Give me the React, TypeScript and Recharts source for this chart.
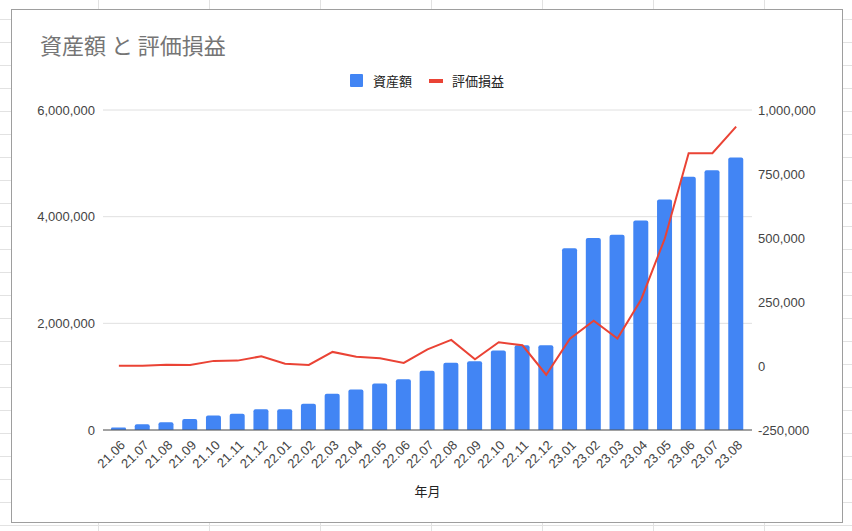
import React from "react";
import {
  ComposedChart,
  Bar,
  Line,
  XAxis,
  YAxis,
  CartesianGrid,
} from "recharts";

const months = [
  "21.06", "21.07", "21.08", "21.09", "21.10", "21.11", "21.12",
  "22.01", "22.02", "22.03", "22.04", "22.05", "22.06", "22.07",
  "22.08", "22.09", "22.10", "22.11", "22.12", "23.01", "23.02",
  "23.03", "23.04", "23.05", "23.06", "23.07", "23.08",
];

// 資産額 (left axis)
const assets = [
  45000, 110000, 145000, 205000, 270000, 305000, 390000, 390000, 490000,
  680000, 760000, 870000, 950000, 1110000, 1260000, 1290000, 1490000,
  1590000, 1590000, 3410000, 3600000, 3660000, 3930000, 4320000, 4750000,
  4870000, 5110000,
];

// 評価損益 (right axis)
const pnl = [
  1000, 1000, 5000, 4000, 20000, 21000, 38000, 9000, 4000, 55000, 36000,
  30000, 12000, 65000, 102000, 26000, 93000, 81000, -34000, 107000, 177000,
  107000, 260000, 499000, 831000, 831000, 935000,
];

const leftTicks = [0, 2000000, 4000000, 6000000];
const rightTicks = [-250000, 0, 250000, 500000, 750000, 1000000];

const data = months.map((m, i) => ({ month: m, assets: assets[i], pnl: pnl[i] }));

const FONT = "'Liberation Sans', Arial, 'Noto Sans CJK JP', sans-serif";
const BLUE = "#4285f4";
const RED = "#ea4335";

const fmt = (v: number) => v.toLocaleString("en-US");

const XTick = (props: any) => {
  const { x, y, payload } = props;
  return (
    <g transform={`translate(${x + 7},${y + 8})`}>
      <text
        x={0}
        y={0}
        textAnchor="end"
        transform="rotate(-45)"
        fill="#444"
        fontSize={13}
        fontFamily={FONT}
      >
        {payload.value}
      </text>
    </g>
  );
};

export default function App() {
  return (
    <div
      style={{
        position: "absolute",
        left: 0,
        top: 0,
        width: 852,
        height: 531,
        overflow: "hidden",
        backgroundColor: "#fff",
        backgroundImage:
          "linear-gradient(#e2e2e2 1px, transparent 1px), linear-gradient(90deg, #e2e2e2 1px, transparent 1px)",
        backgroundSize: "111px 23px",
        backgroundPosition: "98px 19px",
        fontFamily: FONT,
      }}
    >
      <div
        style={{
          position: "absolute",
          left: 11,
          top: 9,
          width: 832,
          height: 514,
          boxSizing: "border-box",
          border: "1px solid #9e9e9e",
          background: "#fff",
        }}
      >
        <div
          style={{
            position: "absolute",
            left: 28,
            top: 23,
            fontSize: 22,
            lineHeight: "22px",
            color: "#757575",
            fontFamily: "'Noto Sans CJK JP', sans-serif",
            whiteSpace: "pre",
          }}
        >
          資産額 と 評価損益
        </div>
        <div
          style={{
            position: "absolute",
            left: 338,
            top: 63,
            height: 15,
            display: "flex",
            alignItems: "center",
            fontSize: 13,
            color: "#222",
            fontFamily: "'Noto Sans CJK JP', sans-serif",
          }}
        >
          <span style={{ width: 13, height: 13, background: BLUE, borderRadius: 1 }} />
          <span style={{ marginLeft: 10 }}>資産額</span>
          <span style={{ marginLeft: 17, width: 14, height: 4, background: RED }} />
          <span style={{ marginLeft: 9 }}>評価損益</span>
        </div>
        <ComposedChart
          width={830}
          height={512}
          data={data}
          margin={{ top: 100, right: 12, bottom: 22, left: 12 }}
          barSize={15}
        >
          <CartesianGrid vertical={false} yAxisId="left" stroke="#e0e0e0" />
          <XAxis
            dataKey="month"
            interval={0}
            height={70}
            padding={{ left: 4, right: 4 }}
            tickLine={false}
            axisLine={{ stroke: "#555" }}
            tick={<XTick />}
            label={{
              value: "年月",
              position: "insideBottom",
              offset: 4,
              fill: "#222",
              fontSize: 13,
              fontFamily: "'Noto Sans CJK JP', sans-serif",
            }}
          />
          <YAxis
            yAxisId="left"
            width={79}
            domain={[0, 6000000]}
            ticks={leftTicks}
            tickFormatter={fmt}
            axisLine={false}
            tickLine={false}
            tick={{ fill: "#444", fontSize: 13, fontFamily: FONT }}
          />
          <YAxis
            yAxisId="right"
            orientation="right"
            width={78}
            domain={[-250000, 1000000]}
            ticks={rightTicks}
            tickFormatter={fmt}
            axisLine={false}
            tickLine={false}
            tickSize={4}
            tick={{ fill: "#444", fontSize: 13, fontFamily: FONT }}
          />
          <Bar
            yAxisId="left"
            dataKey="assets"
            fill={BLUE}
            radius={[2, 2, 0, 0]}
            isAnimationActive={false}
          />
          <Line
            yAxisId="right"
            dataKey="pnl"
            type="linear"
            stroke={RED}
            strokeWidth={2}
            dot={false}
            isAnimationActive={false}
          />
        </ComposedChart>
      </div>
    </div>
  );
}
